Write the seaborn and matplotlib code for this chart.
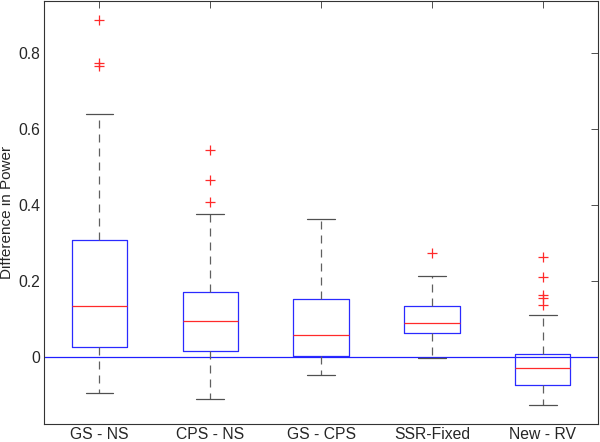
import seaborn as sns
import matplotlib.pyplot as plt

# Valores (resumo de cinco numeros por grupo)
grupos = ['GS - NS', 'CPS - NS', 'GS - CPS', 'SSR-Fixed', 'New - RV']
q1 = [0.028, 0.017, 0.003, 0.063, -0.073]
mediana = [0.135, 0.095, 0.058, 0.091, -0.029]
q3 = [0.308, 0.172, 0.152, 0.134, 0.008]
bigode_inf = [-0.093, -0.110, -0.047, -0.002, -0.125]
bigode_sup = [0.639, 0.378, 0.364, 0.214, 0.112]
outliers = [
    [0.886, 0.773, 0.766],
    [0.546, 0.465, 0.409],
    [],
    [0.273],
    [0.264, 0.212, 0.163, 0.156, 0.137],
]

sns.set_style('white')
plt.rcParams['font.family'] = ['Liberation Sans', 'DejaVu Sans']

stats = []
for i, g in enumerate(grupos):
    stats.append({'label': g, 'q1': q1[i], 'med': mediana[i], 'q3': q3[i],
                  'whislo': bigode_inf[i], 'whishi': bigode_sup[i],
                  'fliers': outliers[i]})

fig = plt.figure(figsize=(6, 4.42), dpi=100)
ax = fig.add_axes([0.0733, 0.041, 0.9237, 0.957])

ax.axhline(0, color='#2020ff', lw=0.9, zorder=1)

ax.bxp(stats, widths=0.5, showfliers=True,
       boxprops=dict(color='#2a2aff', lw=0.9),
       medianprops=dict(color='#ff2a2a', lw=0.9),
       whiskerprops=dict(color='#606060', lw=0.9, linestyle=(0, (6.4, 4.8))),
       capprops=dict(color='#505050', lw=0.9),
       flierprops=dict(marker='+', markeredgecolor='#ff2a2a', markersize=7,
                       markeredgewidth=0.9, linestyle='none'))

ax.set_xlim(0.5, 5.5)
ax.set_ylim(-0.175, 0.937)
ax.set_yticks([0, 0.2, 0.4, 0.6, 0.8])
ax.set_yticklabels(['0', '0.2', '0.4', '0.6', '0.8'])
ax.set_ylabel('Difference in Power', fontsize=11, labelpad=3)
ax.tick_params(direction='in', top=True, right=True, length=5, width=0.6,
               color='#333333', labelsize=11.3, pad=2.5)
for s in ax.spines.values():
    s.set_color('#333333')
    s.set_linewidth(0.8)

plt.savefig('out.png', dpi=100)
